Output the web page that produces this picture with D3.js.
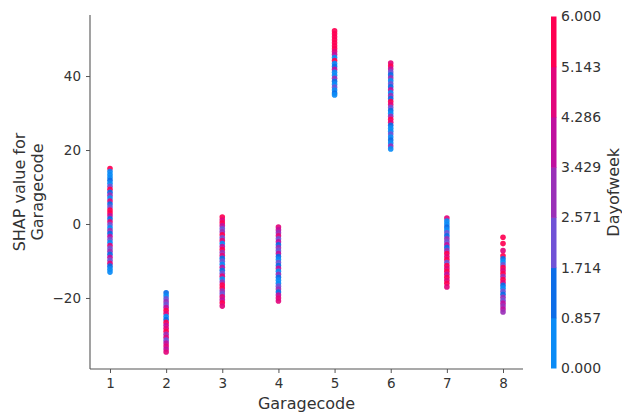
<!DOCTYPE html>
<html>
<head>
<meta charset="utf-8">
<script src="https://cdn.jsdelivr.net/npm/d3@7"></script>
<style>
  html, body { margin: 0; padding: 0; background: #fff; }
  svg { display: block; font-family: "DejaVu Sans", sans-serif; }
</style>
</head>
<body>
<svg id="chart" width="622" height="414"></svg>
<script>
// Garage codes on the x axis
const garageCodes = [1, 2, 3, 4, 5, 6, 7, 8];

// SHAP values per garage code (top to bottom) and the matching day of week
const g1Shap = [15.0, 14.2, 13.4, 12.6, 11.8, 11.0, 10.2, 9.4, 8.6, 7.8, 7.0, 6.2, 5.4, 4.6, 3.8, 3.0, 2.2, 1.4, 0.6, -0.2, -1.0, -1.8, -2.6, -3.4, -4.2, -5.0, -5.8, -6.6, -7.4, -8.2, -9.0, -9.8, -10.6, -11.4, -12.2, -13.0];
const g1Day  = [6, 0, 0, 0, 1, 0, 2, 6, 1, 3, 0, 5, 1, 2, 6, 6, 4, 1, 5, 2, 0, 3, 1, 4, 2, 0, 5, 2, 3, 1, 4, 2, 5, 1, 0, 0];

const g2Shap = [-18.6, -19.4, -20.2, -21.0, -21.8, -22.6, -23.4, -24.2, -25.0, -25.8, -26.6, -27.4, -28.2, -29.0, -29.8, -30.6, -31.4, -32.2, -33.0, -33.8, -34.6];
const g2Day  = [1, 0, 2, 3, 2, 4, 6, 5, 0, 1, 6, 4, 5, 6, 3, 5, 2, 4, 5, 4, 5];

const g3Shap = [1.9, 1.1, 0.3, -0.5, -1.3, -2.1, -2.9, -3.7, -4.5, -5.3, -6.1, -6.9, -7.7, -8.5, -9.3, -10.1, -10.9, -11.7, -12.5, -13.3, -14.1, -14.9, -15.7, -16.5, -17.3, -18.1, -18.9, -19.7, -20.5, -21.3, -22.2];
const g3Day  = [6, 5, 6, 4, 2, 3, 6, 2, 5, 0, 4, 6, 3, 5, 1, 2, 0, 4, 1, 2, 5, 0, 3, 6, 6, 3, 2, 5, 4, 6, 5];

const g4Shap = [-0.8, -1.6, -2.4, -3.2, -4.0, -4.8, -5.6, -6.4, -7.2, -8.0, -8.8, -9.6, -10.4, -11.2, -12.0, -12.8, -13.6, -14.4, -15.2, -16.0, -16.8, -17.6, -18.4, -19.2, -20.0, -20.8];
const g4Day  = [5, 4, 3, 5, 2, 4, 1, 3, 2, 4, 1, 0, 2, 1, 4, 0, 3, 1, 0, 0, 2, 3, 1, 4, 5, 5];

const g5Shap = [52.2, 51.4, 50.6, 49.8, 49.0, 48.2, 47.4, 46.6, 45.8, 45.0, 44.2, 43.4, 42.6, 41.8, 41.0, 40.2, 39.4, 38.6, 37.8, 37.0, 36.2, 35.4, 34.9];
const g5Day  = [6, 6, 6, 6, 6, 6, 6, 5, 4, 0, 6, 0, 1, 4, 0, 0, 3, 1, 0, 2, 0, 1, 0];

const g6Shap = [43.5, 42.7, 41.9, 41.1, 40.3, 39.5, 38.7, 37.9, 37.1, 36.3, 35.5, 34.7, 33.9, 33.1, 32.3, 31.5, 30.7, 29.9, 29.1, 28.3, 27.5, 26.7, 25.9, 25.1, 24.3, 23.5, 22.7, 21.9, 21.1, 20.3];
const g6Day  = [5, 6, 4, 2, 1, 3, 0, 2, 1, 4, 0, 3, 1, 6, 5, 2, 1, 0, 3, 6, 5, 1, 0, 0, 2, 0, 1, 0, 3, 0];

const g7Shap = [1.6, 0.8, 0.0, -0.8, -1.6, -2.4, -3.2, -4.0, -4.8, -5.6, -6.4, -7.2, -8.0, -8.8, -9.6, -10.4, -11.2, -12.0, -12.8, -13.6, -14.4, -15.2, -16.0, -17.0];
const g7Day  = [5, 0, 0, 1, 0, 2, 1, 3, 2, 4, 1, 3, 6, 5, 6, 2, 6, 5, 6, 4, 6, 5, 6, 5];

const g8Shap = [-3.6, -5.3, -7.2, -8.6, -9.4, -10.2, -11.0, -11.8, -12.6, -13.4, -14.2, -15.0, -15.8, -16.6, -17.4, -18.2, -19.0, -19.8, -20.6, -21.4, -22.2, -23.0, -23.8];
const g8Day  = [6, 6, 5, 6, 1, 0, 2, 6, 5, 6, 3, 6, 5, 1, 0, 2, 1, 3, 2, 4, 3, 4, 3];

// Axis ticks
const yTicks = [-20, 0, 20, 40];
const colorTicks = [0.000, 0.857, 1.714, 2.571, 3.429, 4.286, 5.143, 6.000];

// Colour of each day-of-week bin (blue → red)
const dayColors = ["#0a8bf6", "#0b6de8", "#7052d6", "#9a30b8", "#c0109f", "#e2067c", "#ff0052"];

const shapSeries = [g1Shap, g2Shap, g3Shap, g4Shap, g5Shap, g6Shap, g7Shap, g8Shap];
const daySeries = [g1Day, g2Day, g3Day, g4Day, g5Day, g6Day, g7Day, g8Day];

const points = [];
garageCodes.forEach((g, i) => {
  shapSeries[i].forEach((v, j) => points.push({ garage: g, shap: v, day: daySeries[i][j] }));
});

const svg = d3.select("#chart");
const axisColor = "#555555";
const textColor = "#333333";

const plot = { left: 90, right: 523, top: 15, bottom: 369 };

const x = d3.scaleLinear().domain([0.644, 8.356]).range([plot.left, plot.right]);
const y = d3.scaleLinear().domain([-39.2, 56.5]).range([plot.bottom, plot.top]);

// Colour lookup: each day value falls into one of seven bins
const colorScale = d3.scaleThreshold()
  .domain(colorTicks.slice(1, -1))
  .range(dayColors);

// Points
svg.append("g")
  .selectAll("circle")
  .data(points)
  .join("circle")
  .attr("cx", d => x(d.garage))
  .attr("cy", d => y(d.shap))
  .attr("r", 2.8)
  .attr("fill", d => colorScale(d.day + 0.01))
  .attr("fill-opacity", 0.92);

const fmtMinus = d => d3.format("d")(d).replace("-", "\u2212");

// X axis
const xAxis = svg.append("g")
  .attr("transform", `translate(0,${plot.bottom})`)
  .call(d3.axisBottom(x).tickValues(garageCodes).tickSize(4).tickPadding(5).tickFormat(d3.format("d")));
xAxis.select(".domain").attr("stroke", axisColor).attr("stroke-width", 1.1)
  .attr("d", `M${plot.left},0H${plot.right}`);
xAxis.selectAll(".tick line").attr("stroke", axisColor);
xAxis.selectAll(".tick text").attr("fill", textColor).attr("font-size", 13.5)
  .attr("font-family", "DejaVu Sans");

// Y axis
const yAxis = svg.append("g")
  .attr("transform", `translate(${plot.left},0)`)
  .call(d3.axisLeft(y).tickValues(yTicks).tickSize(4).tickPadding(5).tickFormat(fmtMinus));
yAxis.select(".domain").attr("stroke", axisColor).attr("stroke-width", 1.1)
  .attr("d", `M0,${plot.top}V${plot.bottom}`);
yAxis.selectAll(".tick line").attr("stroke", axisColor);
yAxis.selectAll(".tick text").attr("fill", textColor).attr("font-size", 13.5)
  .attr("font-family", "DejaVu Sans");

// Axis labels
svg.append("text")
  .attr("x", (plot.left + plot.right) / 2)
  .attr("y", 409)
  .attr("text-anchor", "middle")
  .attr("font-size", 16)
  .attr("fill", textColor)
  .text("Garagecode");

const yLab = svg.append("text")
  .attr("transform", `translate(0,${(plot.top + plot.bottom) / 2}) rotate(-90)`)
  .attr("text-anchor", "middle")
  .attr("font-size", 16)
  .attr("fill", textColor);
yLab.append("tspan").attr("x", 0).attr("y", 24.5).text("SHAP value for");
yLab.append("tspan").attr("x", 0).attr("y", 42.5).text("Garagecode");

// Colour bar
const cb = { x: 551, width: 5.5, top: 16.5, bottom: 368 };
const cy = d3.scaleLinear().domain([0, 6]).range([cb.bottom, cb.top]);

const bins = dayColors.map((c, i) => ({ lo: colorTicks[i], hi: colorTicks[i + 1], color: c }));
svg.append("g")
  .selectAll("rect")
  .data(bins)
  .join("rect")
  .attr("x", cb.x)
  .attr("width", cb.width)
  .attr("y", d => cy(d.hi))
  .attr("height", d => cy(d.lo) - cy(d.hi) + 0.5)
  .attr("fill", d => d.color);

const cAxis = svg.append("g")
  .attr("transform", `translate(${cb.x + cb.width},0)`)
  .call(d3.axisRight(cy).tickValues(colorTicks).tickSize(0).tickPadding(4.5).tickFormat(d3.format(".3f")));
cAxis.select(".domain").remove();
cAxis.selectAll(".tick text").attr("fill", textColor).attr("font-size", 14)
  .attr("font-family", "DejaVu Sans");

svg.append("text")
  .attr("transform", `translate(619,${(cb.top + cb.bottom) / 2}) rotate(-90)`)
  .attr("text-anchor", "middle")
  .attr("font-size", 16)
  .attr("fill", textColor)
  .text("Dayofweek");
</script>
</body>
</html>
